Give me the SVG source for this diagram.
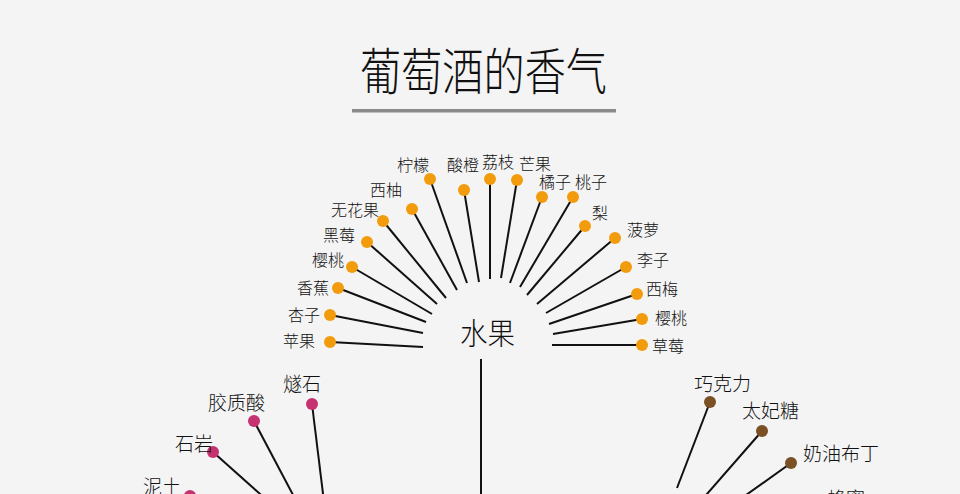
<svg xmlns="http://www.w3.org/2000/svg" width="960" height="494" viewBox="0 0 960 494">
<style>
.lbl{font-family:"Noto Sans CJK SC","Noto Sans",sans-serif;font-size:16px;fill:#111;font-weight:300}
.lbl2{font-family:"Noto Sans CJK SC","Noto Sans",sans-serif;font-size:19px;fill:#111;font-weight:300}
.ttl{font-family:"Noto Sans CJK SC","Noto Sans",sans-serif;font-size:50px;fill:#111;font-weight:300}
.ctr{font-family:"Noto Sans CJK SC","Noto Sans",sans-serif;font-size:30px;fill:#111;font-weight:300}
.ln{stroke:#111;stroke-width:2;fill:none}
.or{fill:#f29b0c}
.mg{fill:#c6316f}
.br{fill:#7a5024}
</style>
<rect width="960" height="494" fill="#f4f4f4"/>
<g id="title">
<text class="ttl" x="360" y="90" textLength="247" lengthAdjust="spacingAndGlyphs">葡萄酒的香气</text>
<rect x="352" y="109" width="264" height="3.5" fill="#8a8a8a"/>
</g>
<g id="connectors">
<line class="ln" x1="330" y1="342" x2="423" y2="347"/>
<line class="ln" x1="330" y1="315" x2="423" y2="333"/>
<line class="ln" x1="338" y1="288" x2="426" y2="322"/>
<line class="ln" x1="352" y1="267" x2="432" y2="314"/>
<line class="ln" x1="367" y1="242" x2="437" y2="304"/>
<line class="ln" x1="383" y1="221" x2="446" y2="298"/>
<line class="ln" x1="412" y1="209" x2="457" y2="290"/>
<line class="ln" x1="430" y1="179" x2="467" y2="283"/>
<line class="ln" x1="464" y1="190" x2="479" y2="282"/>
<line class="ln" x1="490" y1="179" x2="490" y2="279"/>
<line class="ln" x1="517" y1="180" x2="501" y2="278"/>
<line class="ln" x1="542" y1="197" x2="510" y2="283"/>
<line class="ln" x1="573" y1="197" x2="520" y2="287"/>
<line class="ln" x1="585" y1="226" x2="527" y2="295"/>
<line class="ln" x1="615" y1="238" x2="537" y2="304"/>
<line class="ln" x1="626" y1="267" x2="546" y2="313"/>
<line class="ln" x1="637" y1="294" x2="549" y2="324"/>
<line class="ln" x1="642" y1="319" x2="553" y2="334"/>
<line class="ln" x1="642" y1="345" x2="552" y2="345"/>
<line class="ln" x1="481" y1="359" x2="481" y2="510"/>
<line class="ln" x1="312" y1="404" x2="325" y2="510"/>
<line class="ln" x1="254" y1="421" x2="301" y2="510"/>
<line class="ln" x1="213" y1="452" x2="278" y2="510"/>
<line class="ln" x1="190" y1="496" x2="220" y2="512"/>
<line class="ln" x1="710" y1="402" x2="677" y2="488"/>
<line class="ln" x1="762" y1="431" x2="693" y2="510"/>
<line class="ln" x1="791" y1="463" x2="725" y2="510"/>
</g>
<g id="center-fruit"><text class="ctr" x="460" y="344" textLength="55" lengthAdjust="spacingAndGlyphs">水果</text></g>
<g id="fruit-nodes">
<g id="n-pingguo"><circle class="or" cx="330" cy="342" r="6"/><text class="lbl" x="283" y="347">苹果</text></g>
<g id="n-xingzi"><circle class="or" cx="330" cy="315" r="6"/><text class="lbl" x="288" y="321">杏子</text></g>
<g id="n-xiangjiao"><circle class="or" cx="338" cy="288" r="6"/><text class="lbl" x="297" y="294">香蕉</text></g>
<g id="n-yingtao1"><circle class="or" cx="352" cy="267" r="6"/><text class="lbl" x="312" y="266">樱桃</text></g>
<g id="n-heimei"><circle class="or" cx="367" cy="242" r="6"/><text class="lbl" x="323" y="241">黑莓</text></g>
<g id="n-wuhuaguo"><circle class="or" cx="383" cy="221" r="6"/><text class="lbl" x="331" y="216">无花果</text></g>
<g id="n-xiyou"><circle class="or" cx="412" cy="209" r="6"/><text class="lbl" x="370" y="196">西柚</text></g>
<g id="n-ningmeng"><circle class="or" cx="430" cy="179" r="6"/><text class="lbl" x="397" y="171">柠檬</text></g>
<g id="n-suancheng"><circle class="or" cx="464" cy="190" r="6"/><text class="lbl" x="447" y="171">酸橙</text></g>
<g id="n-lizhi"><circle class="or" cx="490" cy="179" r="6"/><text class="lbl" x="482" y="168">荔枝</text></g>
<g id="n-mangguo"><circle class="or" cx="517" cy="180" r="6"/><text class="lbl" x="519" y="170">芒果</text></g>
<g id="n-juzi"><circle class="or" cx="542" cy="197" r="6"/><text class="lbl" x="539" y="188">橘子</text></g>
<g id="n-taozi"><circle class="or" cx="573" cy="197" r="6"/><text class="lbl" x="575" y="188">桃子</text></g>
<g id="n-li"><circle class="or" cx="585" cy="226" r="6"/><text class="lbl" x="592" y="219">梨</text></g>
<g id="n-boluo"><circle class="or" cx="615" cy="238" r="6"/><text class="lbl" x="627" y="236">菠萝</text></g>
<g id="n-lizi"><circle class="or" cx="626" cy="267" r="6"/><text class="lbl" x="637" y="266">李子</text></g>
<g id="n-ximei"><circle class="or" cx="637" cy="294" r="6"/><text class="lbl" x="646" y="295">西梅</text></g>
<g id="n-yingtao2"><circle class="or" cx="642" cy="319" r="6"/><text class="lbl" x="655" y="324">樱桃</text></g>
<g id="n-caomei"><circle class="or" cx="642" cy="345" r="6"/><text class="lbl" x="652" y="352">草莓</text></g>
</g>
<g id="mineral-nodes">
<g id="n-suishi"><circle class="mg" cx="312" cy="404" r="6"/><text class="lbl2" x="283" y="391">燧石</text></g>
<g id="n-jiaozhisuan"><circle class="mg" cx="254" cy="421" r="6"/><text class="lbl2" x="208" y="410">胶质酸</text></g>
<g id="n-shiyan"><circle class="mg" cx="213" cy="452" r="6"/><text class="lbl2" x="175" y="451">石岩</text></g>
<g id="n-nitu"><circle class="mg" cx="190" cy="496" r="6"/><text class="lbl2" x="143" y="494">泥土</text></g>
</g>
<g id="sweet-nodes">
<g id="n-qiaokeli"><circle class="br" cx="710" cy="402" r="6"/><text class="lbl2" x="694" y="391">巧克力</text></g>
<g id="n-taifeitang"><circle class="br" cx="762" cy="431" r="6"/><text class="lbl2" x="742" y="418">太妃糖</text></g>
<g id="n-naiyoubuding"><circle class="br" cx="791" cy="463" r="6"/><text class="lbl2" x="803" y="461">奶油布丁</text></g>
<g id="n-fengmi"><text class="lbl2" x="827" y="506">蜂蜜</text></g>
</g>
</svg>
